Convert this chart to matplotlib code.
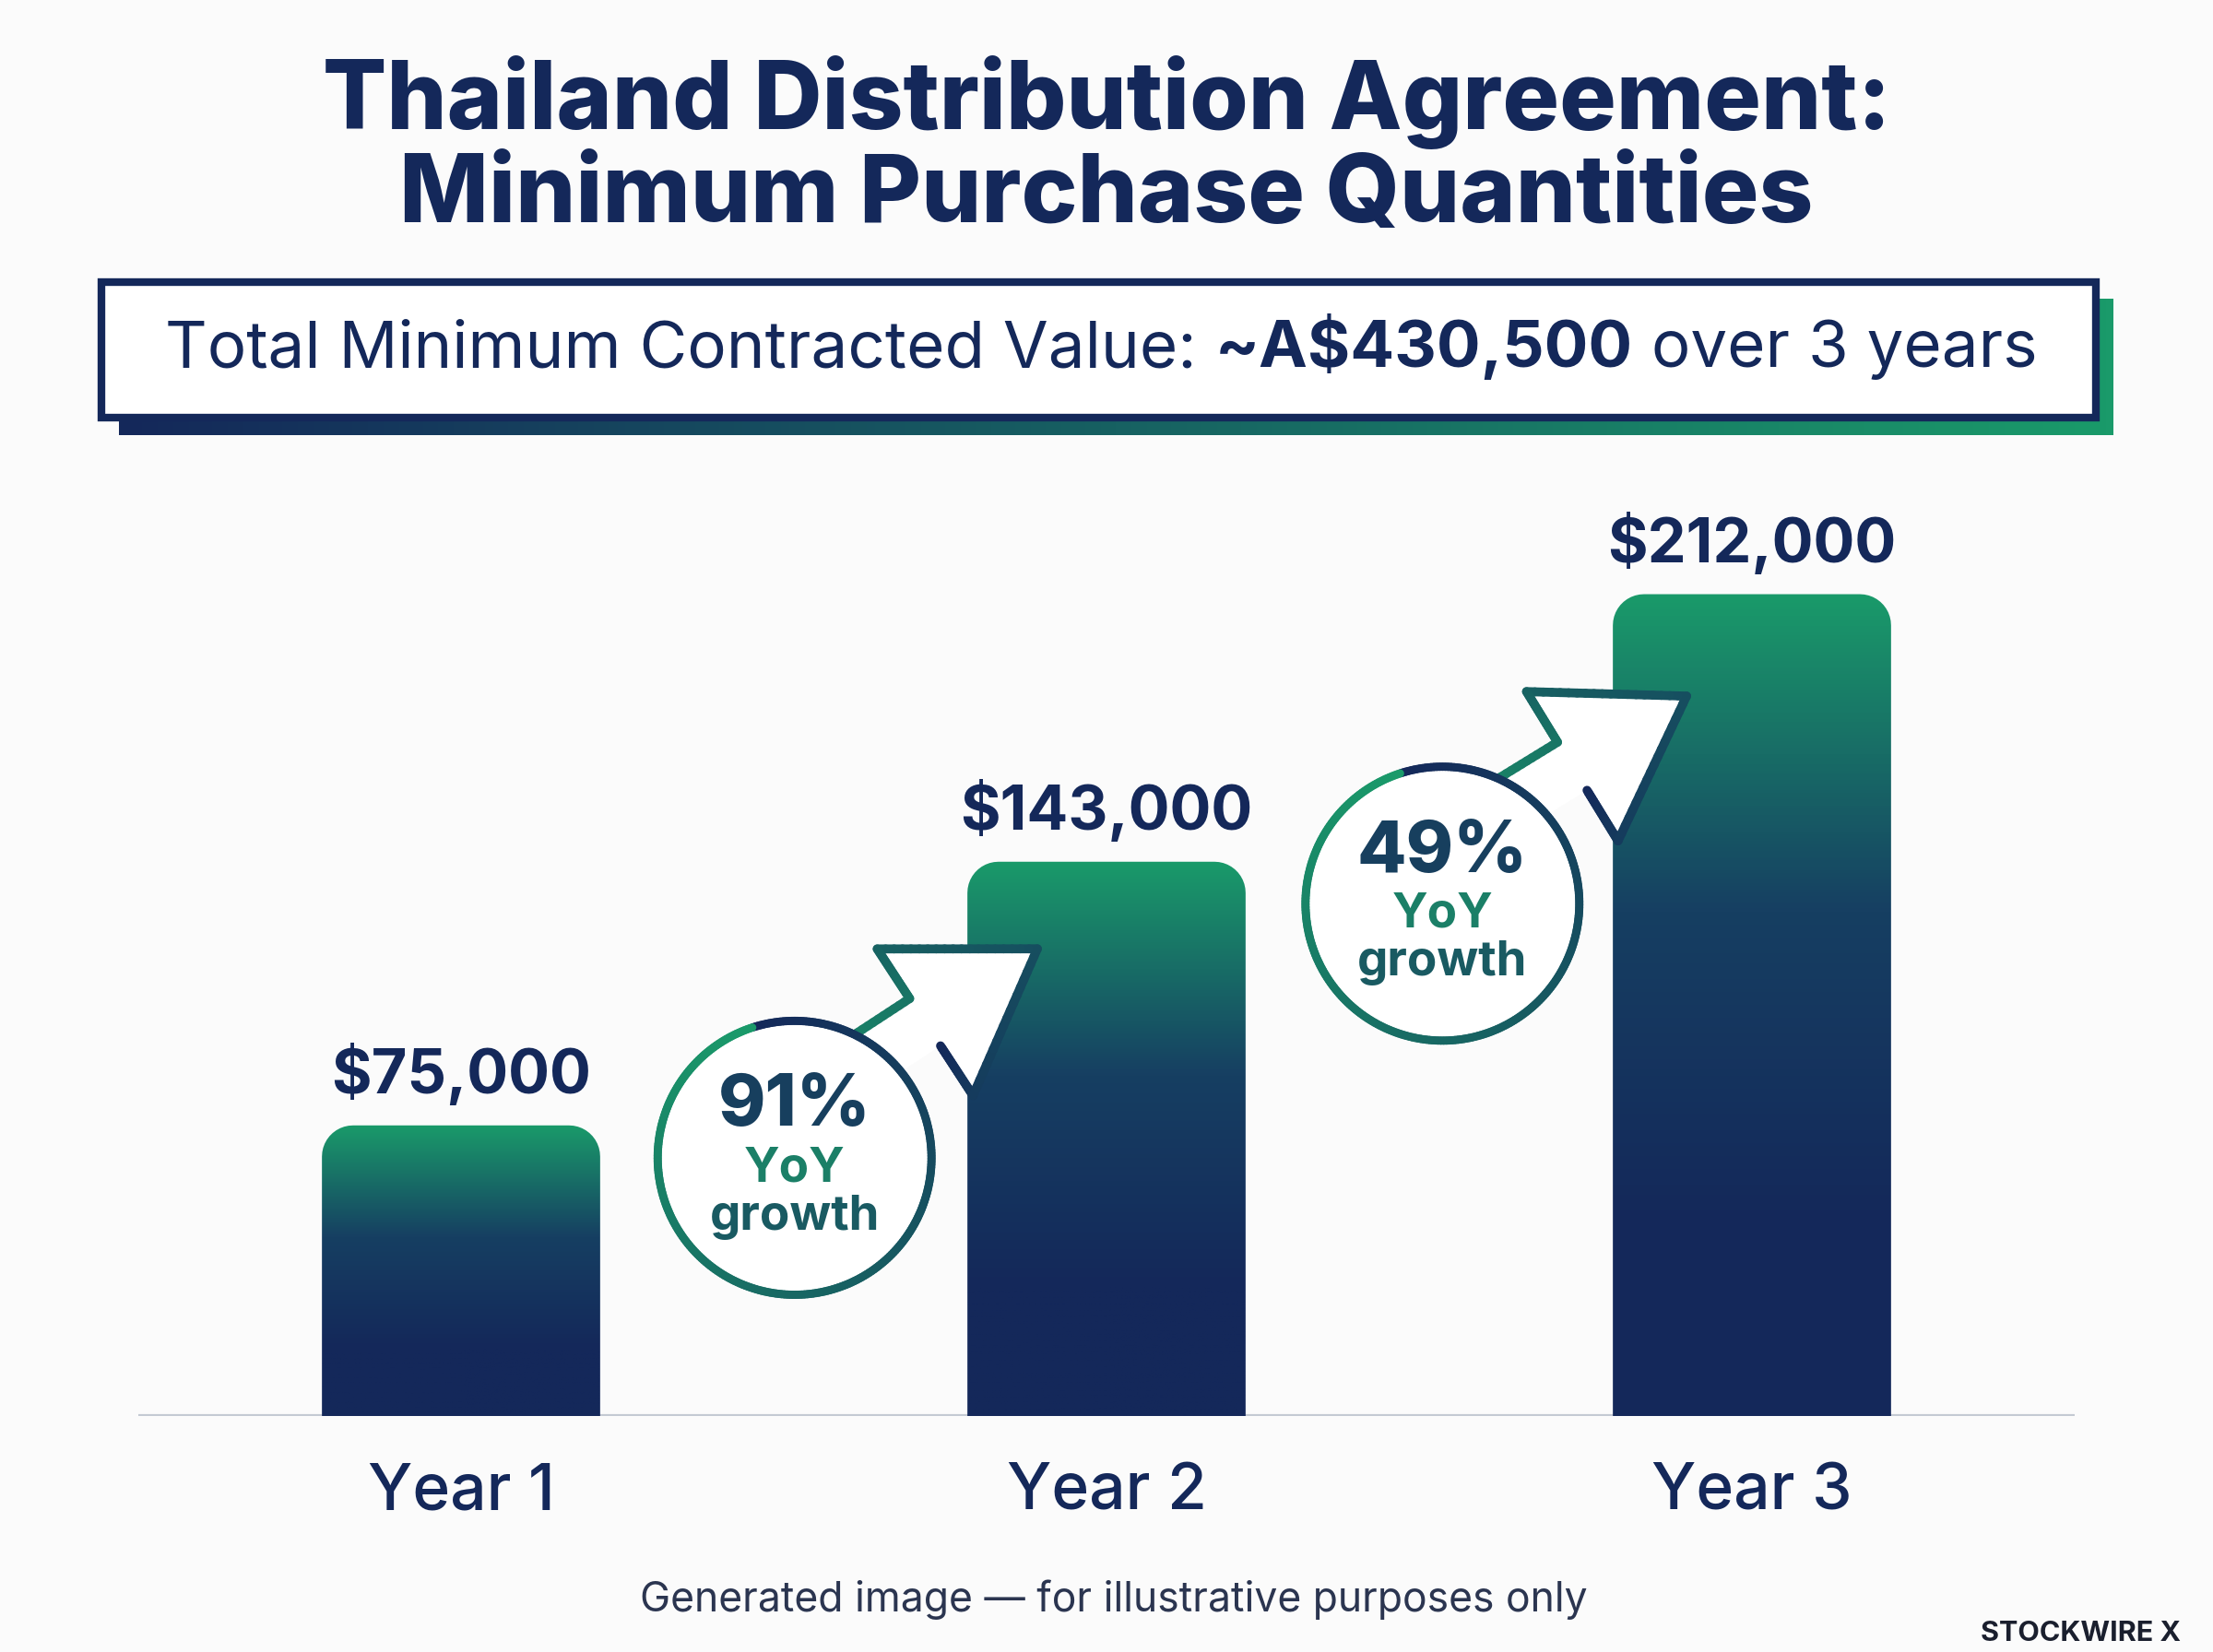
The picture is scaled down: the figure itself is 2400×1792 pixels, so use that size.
import numpy as np
import matplotlib
matplotlib.use("Agg")
import matplotlib.pyplot as plt
from matplotlib.path import Path
from matplotlib.patches import PathPatch, Rectangle, Polygon, Circle
from matplotlib.collections import LineCollection
from matplotlib.colors import LinearSegmentedColormap

years = ["Year 1", "Year 2", "Year 3"]
values = [75000, 143000, 212000]
value_labels = ["$75,000", "$143,000", "$212,000"]
growth_labels = ["91%", "49%"]
title = "Thailand Distribution Agreement:\nMinimum Purchase Quantities"

NAVY = "#14285a"
GREEN = "#1a9a6a"
FONT = ["Inter", "DejaVu Sans"]
W, H = 1568, 1170

fig = plt.figure(figsize=(12, 8.96), dpi=200, facecolor="#fbfbfb")
cmap = LinearSegmentedColormap.from_list("g", [NAVY, "#163f62", "#1a9a6a"])

ax = fig.add_axes([98 / W, 1 - 1003 / H, (1470 - 98) / W, (1003 - 300) / H])
ax.set_facecolor("none")
ymax = 256000
ax.set_xlim(-0.5, 2.5)
ax.set_ylim(0, ymax)
for s in ax.spines.values():
    s.set_visible(False)
ax.axhline(0, color="#c4cad3", lw=1.5, zorder=1)
ax.set_xticks([])
ax.set_yticks([])

bw = 0.431
rx = 22 / 457
ry = 22 * ymax / 703
for i, v in enumerate(values):
    x0, x1 = i - bw / 2, i + bw / 2
    t = np.linspace(0, np.pi / 2, 12)
    pts = [(x0, 0), (x1, 0), (x1, v - ry)]
    pts += [(x1 - rx + rx * np.cos(a), v - ry + ry * np.sin(a)) for a in t]
    pts += [(x0 + rx - rx * np.cos(a), v - ry + ry * np.sin(a)) for a in t[::-1]]
    pts.append((x0, 0))
    patch = PathPatch(Path(pts), facecolor="none", edgecolor="none")
    ax.add_patch(patch)
    g = np.clip(np.linspace(0, 1, 256) * 1.3 - 0.3, 0, 1).reshape(-1, 1)
    im = ax.imshow(g, cmap=cmap, extent=[x0, x1, 0, v], origin="lower",
                   aspect="auto", zorder=2)
    im.set_clip_path(patch)
    ax.text(i, v + 5000, value_labels[i], ha="center", va="bottom",
            fontsize=24, fontweight="bold", color=NAVY, family=FONT)
    ax.text(i, -12000, years[i], ha="center", va="top", fontsize=25,
            fontweight="medium", color=NAVY, family=FONT)

ov = fig.add_axes([0, 0, 1, 1])
ov.set_xlim(0, W)
ov.set_ylim(H, 0)
ov.axis("off")
ov.set_facecolor("none")

ov.text(W / 2, 105, title, ha="center", va="center", fontsize=37,
        fontweight="heavy", color=NAVY, family=FONT, linespacing=1.05)

ov.imshow(np.linspace(0, 1, 256).reshape(1, -1),
          cmap=LinearSegmentedColormap.from_list("s", [NAVY, GREEN]),
          extent=[84, 1497, 308, 212], aspect="auto", zorder=1)
ov.add_patch(Rectangle((72, 200), 1413, 96, facecolor="white",
                       edgecolor=NAVY, lw=3, zorder=2))
t1 = ov.text(117, 248, "Total Minimum Contracted Value: ", ha="left",
             va="center", fontsize=25.5, color=NAVY, family=FONT, zorder=3)
t2 = ov.annotate("~A$430,500", xy=(1, 0), xycoords=t1, va="bottom",
                 fontsize=25.5, fontweight="bold", color=NAVY, family=FONT, zorder=3)
ov.annotate(" over 3 years", xy=(1, 0), xycoords=t2, va="bottom",
            fontsize=25.5, color=NAVY, family=FONT, zorder=3)


def grad_line(xs, ys, lw, z):
    pts = np.column_stack([xs, ys]).reshape(-1, 1, 2)
    segs = np.concatenate([pts[:-1], pts[1:]], axis=1)
    lc = LineCollection(segs, cmap=LinearSegmentedColormap.from_list("c", [NAVY, GREEN]),
                        lw=lw, zorder=z, capstyle="round")
    lc.set_array(np.linspace(0, 1, len(segs)))
    ov.add_collection(lc)


def arrow(tail, tip, z):
    tail, tip = np.array(tail, float), np.array(tip, float)
    d = tip - tail
    u = d / np.hypot(*d)
    n = np.array([-u[1], u[0]])
    sw, hw, hl = 20, 62, 95
    b = tip - u * hl
    poly = [tail + n * sw, b + n * sw, b + n * hw, tip, b - n * hw, b - n * sw, tail - n * sw]
    ov.add_patch(Polygon(poly, closed=True, facecolor="white", edgecolor="none", zorder=z))
    p = np.array(poly[1:] + [poly[0]])
    xs = np.concatenate([np.linspace(p[k][0], p[k + 1][0], 20) for k in range(len(p) - 1)])
    ys = np.concatenate([np.linspace(p[k][1], p[k + 1][1], 20) for k in range(len(p) - 1)])
    grad_line(xs, ys, 3.5, z + 0.1)


def bubble(cx, cy, r, label, z):
    ov.add_patch(Circle((cx, cy), r, facecolor="white", edgecolor="none", zorder=z))
    a = np.linspace(np.pi * 0.6, np.pi * 0.6 - 2 * np.pi, 300)
    grad_line(cx + r * np.cos(a), cy - r * np.sin(a), 3.2, z + 0.1)
    ov.text(cx, cy - 36, label, ha="center", va="center", fontsize=28,
            fontweight="heavy", color="#173f5e", family=FONT, zorder=z + 1)
    ov.text(cx, cy + 8, "YoY", ha="center", va="center", fontsize=19,
            fontweight="bold", color="#1b7f67", family=FONT, zorder=z + 1)
    ov.text(cx, cy + 42, "growth", ha="center", va="center", fontsize=19,
            fontweight="bold", color="#195a62", family=FONT, zorder=z + 1)


arrow((585, 770), (735, 672), 5)
bubble(563, 820, 97, growth_labels[0], 6)
arrow((1045, 585), (1195, 493), 5)
bubble(1022, 640, 97, growth_labels[1], 6)

ov.text(W / 2 + 5, 1133, "Generated image — for illustrative purposes only",
        ha="center", va="center", fontsize=16, color="#2b3550", family=FONT)
ov.text(1545, 1157, "STOCKWIRE X", ha="right", va="center", fontsize=11,
        fontweight="bold", color="#1a1f2e", family=FONT)

fig.savefig("out.png", dpi=200, facecolor=fig.get_facecolor())
